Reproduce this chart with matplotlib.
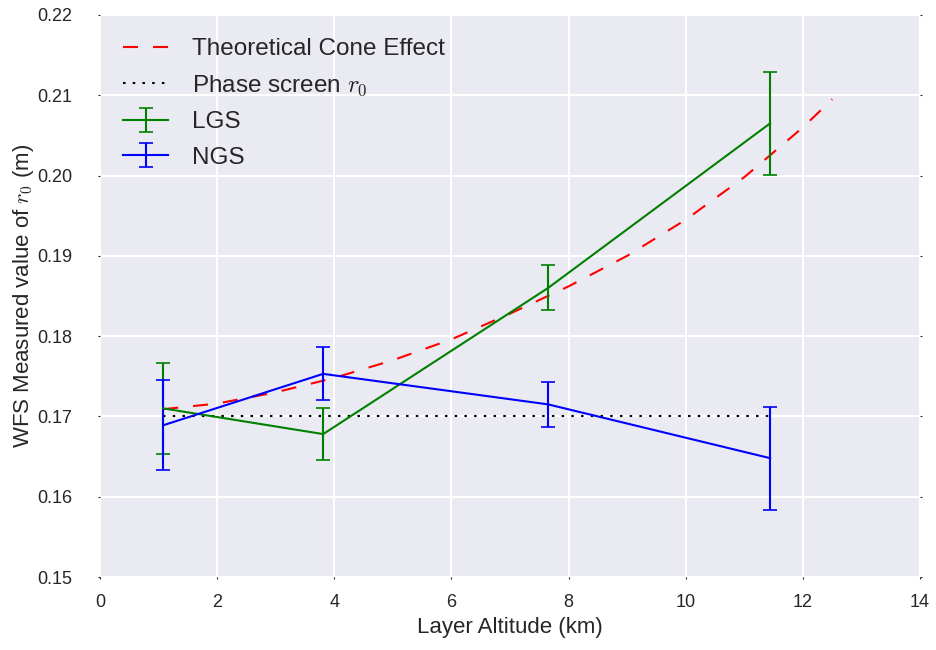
import matplotlib
matplotlib.use("Agg")
import matplotlib.pyplot as plt

# ---- data ----
lgs_x = [1.08, 3.81, 7.65, 11.44]
lgs_y = [0.1710, 0.1678, 0.1860, 0.2065]
lgs_err = [0.0057, 0.0032, 0.0028, 0.0064]

ngs_x = [1.08, 3.81, 7.65, 11.44]
ngs_y = [0.1689, 0.1753, 0.1715, 0.1648]
ngs_err = [0.0056, 0.0033, 0.0028, 0.0064]

cone_x = [1.08, 2.0, 3.0, 4.0, 5.0, 6.0, 7.0, 8.0, 9.0, 10.0, 11.0, 12.0, 12.5]
cone_y = [0.1709, 0.1716, 0.1730, 0.1748, 0.1770, 0.1796, 0.1828, 0.1862,
          0.1900, 0.1945, 0.1998, 0.2060, 0.2095]

screen_x = [1.08, 11.44]
screen_r0 = [0.170, 0.170]

xticks = [0, 2, 4, 6, 8, 10, 12, 14]
yticks = [0.15, 0.16, 0.17, 0.18, 0.19, 0.20, 0.21, 0.22]
ytick_labels = ["0.15", "0.16", "0.17", "0.18", "0.19", "0.20", "0.21", "0.22"]

plt.rcParams['font.family'] = ['Liberation Sans', 'DejaVu Sans']
plt.rcParams['mathtext.fontset'] = 'cm'
plt.rcParams['lines.scale_dashes'] = False

fig = plt.figure(figsize=(9.36, 6.5), dpi=100)
ax = fig.add_axes([0.1068, 0.1123, 0.8762, 0.8647])
ax.set_facecolor('#EAEAF2')
for s in ax.spines.values():
    s.set_visible(False)
ax.grid(True, color='white', linewidth=1.5)
ax.set_axisbelow(True)

ax.plot(cone_x, cone_y, color='red', linewidth=1.5, dashes=(10.8, 10.8),
        label='Theoretical Cone Effect')
ax.plot(screen_x, screen_r0, color='black', linewidth=1.5, dashes=(1.8, 5.2),
        label='Phase screen $r_0$')
ax.errorbar(lgs_x, lgs_y, yerr=lgs_err, color='green', linewidth=1.5,
            elinewidth=1.5, capsize=5, capthick=1.2, label='LGS')
ax.errorbar(ngs_x, ngs_y, yerr=ngs_err, color='blue', linewidth=1.5,
            elinewidth=1.5, capsize=5, capthick=1.2, label='NGS')

ax.set_xlim(0, 14)
ax.set_ylim(0.15, 0.22)
ax.set_xticks(xticks)
ax.set_yticks(yticks)
ax.set_yticklabels(ytick_labels)
ax.tick_params(axis='both', labelsize=13, colors='#262626', length=1.5,
               direction='out', right=True, top=False)
ax.tick_params(axis='x', pad=11)
ax.tick_params(axis='y', pad=18.5)

ax.set_xlabel('Layer Altitude (km)', fontsize=16, color='#262626', labelpad=4)
ax.set_ylabel('WFS Measured value of $r_0$ (m)', fontsize=16, color='#262626',
              labelpad=0.5)

leg = ax.legend(loc='upper left', frameon=False, fontsize=17.5, handlelength=1.85,
                labelspacing=0.55, borderaxespad=0.55, handletextpad=1.0)
for t in leg.get_texts():
    t.set_color('#262626')

fig.savefig('out.png', dpi=100)
